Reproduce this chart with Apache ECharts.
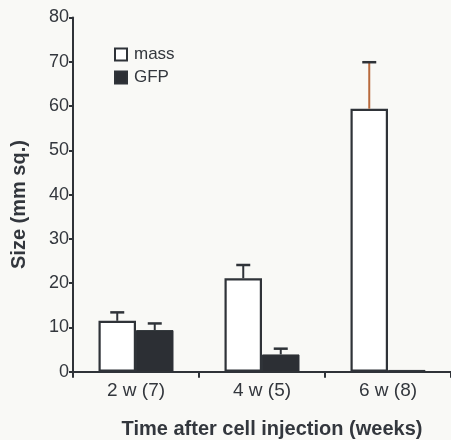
<!DOCTYPE html>
<html>
<head>
<meta charset="utf-8">
<script src="https://cdn.jsdelivr.net/npm/echarts@6/dist/echarts.min.js"></script>
<style>
  html, body { margin: 0; padding: 0; background: #f9f9f6; }
  #chart { width: 451px; height: 440px; }
</style>
</head>
<body>
<div id="chart"></div>
<script>
// data
const categories = ['2 w (7)', '4 w (5)', '6 w (8)'];
const massMean = [11.5, 21.1, 59.4];
const massSem = [1.9, 3.0, 10.5];
const gfpMean = [9.4, 3.9, 0.4];
const gfpSem = [1.5, 1.3, 0];
const yTicks = [0, 10, 20, 30, 40, 50, 60, 70, 80];

const ink = '#2f3338';
const textCol = '#33373d';
const font = "'Liberation Sans', Arial, Helvetica, sans-serif";
const barW = 37.5;

const myChart = echarts.init(document.getElementById('chart'));

// upper-only error bar, shifted to the bar it belongs to
function errorBar(side) {
  return function (params, api) {
    const ci = api.value(0);
    const mean = api.value(1);
    const sem = api.value(2);
    if (!sem) return null;
    const base = api.coord([ci, mean]);
    const top = api.coord([ci, mean + sem]);
    const x = base[0] + side * barW / 2;
    const stemCol = ci === 2 ? '#b86a3c' : ink;
    return {
      type: 'group',
      children: [
        { type: 'line', shape: { x1: x, y1: base[1], x2: x, y2: top[1] },
          style: { stroke: stemCol, lineWidth: 2 } },
        { type: 'line', shape: { x1: x - 7, y1: top[1], x2: x + 7, y2: top[1] },
          style: { stroke: ink, lineWidth: 2.5 } }
      ]
    };
  };
}

const option = {
  backgroundColor: '#f9f9f6',
  animation: false,
  textStyle: { fontFamily: font },
  grid: { left: 73, top: 17.5, width: 382, height: 354.2 },
  legend: {
    orient: 'vertical',
    left: 114,
    top: 46,
    padding: 0,
    itemWidth: 12,
    itemHeight: 12,
    itemGap: 6,
    icon: 'rect',
    textStyle: { color: textCol, fontSize: 17, fontFamily: font, padding: [0, 0, 0, 2] },
    data: ['mass', 'GFP']
  },
  xAxis: {
    type: 'category',
    data: categories,
    axisLine: { lineStyle: { color: ink, width: 2 } },
    axisTick: { show: true, length: 6, lineStyle: { color: ink, width: 2 } },
    axisLabel: { color: textCol, fontSize: 19, margin: 10, fontFamily: font }
  },
  yAxis: {
    type: 'value',
    min: yTicks[0],
    max: yTicks[yTicks.length - 1],
    interval: 10,
    splitLine: { show: false },
    axisLine: { show: true, lineStyle: { color: ink, width: 2 } },
    axisTick: { show: true, length: 4, lineStyle: { color: ink, width: 2 } },
    axisLabel: { color: textCol, fontSize: 18, margin: 4, fontFamily: font }
  },
  graphic: [
    {
      type: 'text',
      x: 272,
      y: 429,
      style: { text: 'Time after cell injection (weeks)', fill: textCol,
        font: 'bold 20px ' + font, textAlign: 'center', textVerticalAlign: 'middle' }
    },
    {
      type: 'text',
      x: 9,
      y: 269,
      rotation: Math.PI / 2,
      style: { text: 'Size (mm sq.)', fill: textCol, font: 'bold 20px ' + font,
        textVerticalAlign: 'top' }
    }
  ],
  series: [
    {
      name: 'mass',
      type: 'bar',
      data: massMean,
      barWidth: barW,
      barGap: '0%',
      itemStyle: { color: '#ffffff', borderColor: ink, borderWidth: 2.2 }
    },
    {
      name: 'GFP',
      type: 'bar',
      data: gfpMean,
      barWidth: barW,
      barGap: '0%',
      itemStyle: { color: '#2c2f34', borderColor: ink, borderWidth: 1 }
    },
    {
      type: 'custom',
      renderItem: errorBar(-1),
      data: massMean.map((v, i) => [i, v, massSem[i]]),
      z: 5
    },
    {
      type: 'custom',
      renderItem: errorBar(1),
      data: gfpMean.map((v, i) => [i, v, gfpSem[i]]),
      z: 5
    }
  ]
};

myChart.setOption(option);
</script>
</body>
</html>
